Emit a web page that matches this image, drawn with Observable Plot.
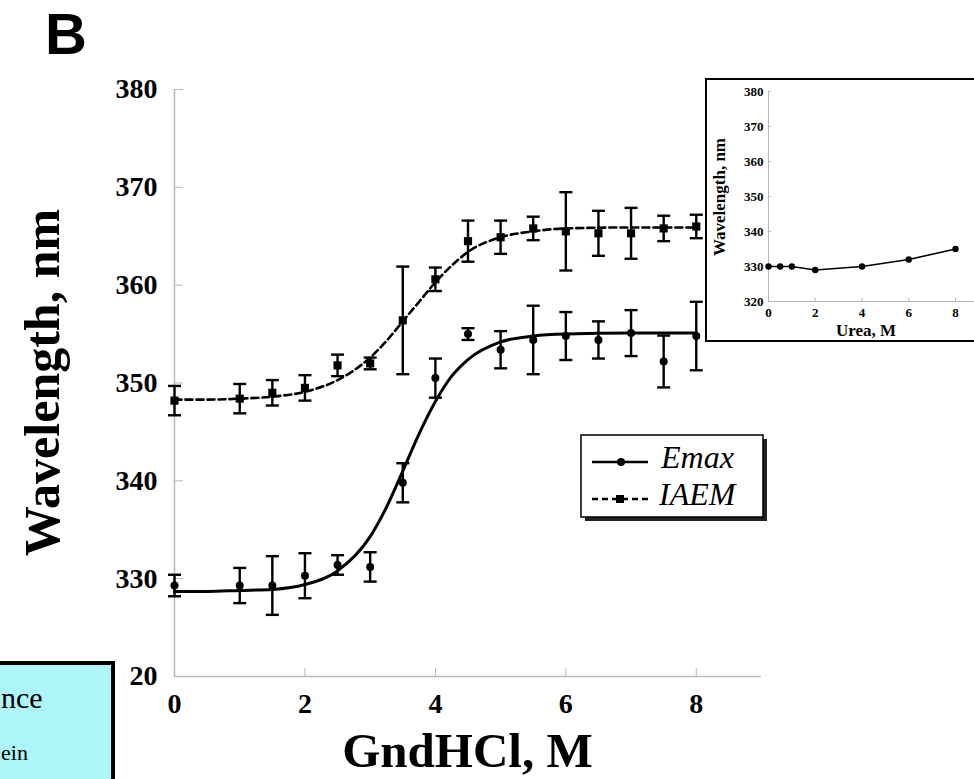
<!DOCTYPE html>
<html><head><meta charset="utf-8">
<script src="https://cdn.jsdelivr.net/npm/d3@7"></script>
<script src="https://cdn.jsdelivr.net/npm/@observablehq/plot@0.6"></script>
<style>
html,body{margin:0;padding:0;background:#fff;}
body{width:974px;height:779px;overflow:hidden;position:relative;}
#main{position:absolute;left:0;top:0;}
#inset{position:absolute;left:705px;top:78px;width:300px;height:260px;border:2px solid #000;background:#fff;overflow:hidden;}
#overlay{position:absolute;left:0;top:0;}
</style></head><body>
<div id="main"></div>
<div id="inset"></div>
<svg id="overlay" width="974" height="779"></svg>
<script>
// ---------- data ----------
const xTicks = [0, 2, 4, 6, 8];
const yTicks = [320, 330, 340, 350, 360, 370, 380];
const yTickLabels = ["20", "330", "340", "350", "360", "370", "380"];

const conc = [0, 1, 1.5, 2, 2.5, 3, 3.5, 4, 4.5, 5, 5.5, 6, 6.5, 7, 7.5, 8];
const emaxMean = [329.3, 329.3, 329.3, 330.3, 331.4, 331.2, 339.8, 350.5, 355.0, 353.4, 354.4, 354.8, 354.4, 355.1, 352.2, 354.8];
const emaxErr  = [1.1, 1.8, 3.0, 2.3, 1.0, 1.5, 2.0, 2.0, 0.6, 1.9, 3.5, 2.45, 1.9, 2.35, 2.65, 3.5];
const iaemMean = [348.2, 348.4, 349.0, 349.5, 351.8, 352.0, 356.4, 360.6, 364.5, 364.9, 365.8, 365.5, 365.3, 365.3, 365.8, 366.0];
const iaemErr  = [1.5, 1.5, 1.3, 1.3, 1.1, 0.6, 5.5, 1.2, 2.1, 1.7, 1.2, 4.0, 2.3, 2.6, 1.3, 1.2];

// fitted curves
const fitX    = [0, 0.5, 1, 1.5, 2, 2.5, 3, 3.25, 3.5, 3.75, 4, 4.25, 4.5, 5, 5.5, 6, 7, 8];
const emaxFit = [328.7, 328.7, 328.8, 328.9, 329.4, 330.8, 334.3, 337.3, 341.0, 344.8, 348.1, 350.7, 352.4, 354.2, 354.8, 355.0, 355.1, 355.1];
const iaemFit = [348.3, 348.3, 348.4, 348.6, 349.1, 350.3, 352.6, 354.3, 356.3, 358.3, 360.3, 362.0, 363.4, 364.9, 365.5, 365.8, 365.9, 365.9];

// inset (urea)
const ureaX = [0, 0.5, 1, 2, 4, 6, 8];
const ureaY = [330, 330, 330, 329, 330, 332, 335];
const insetXTicks = [0, 2, 4, 6, 8];
const insetYTicks = [320, 330, 340, 350, 360, 370, 380];

// ---------- build ----------
const emaxPts = conc.map((x, i) => ({x, y: emaxMean[i], e: emaxErr[i]}));
const iaemPts = conc.map((x, i) => ({x, y: iaemMean[i], e: iaemErr[i]}));
const fit = fitX.map((x, i) => ({x, emax: emaxFit[i], iaem: iaemFit[i]}));
const urea = ureaX.map((x, i) => ({x, y: ureaY[i]}));

const capSym = {draw(ctx, size) { const h = Math.sqrt(size / Math.PI); ctx.moveTo(-h, 0); ctx.lineTo(h, 0); }};
const serif = "Liberation Serif, Times New Roman, serif";
const axisGray = "#b8b8b8";

function errMarks(pts) {
  return [
    Plot.ruleX(pts, {x: "x", y1: d => d.y - d.e, y2: d => d.y + d.e, stroke: "#000", strokeWidth: 2.4}),
    Plot.dot(pts, {x: "x", y: d => d.y + d.e, symbol: capSym, r: 6.5, stroke: "#000", strokeWidth: 2.4}),
    Plot.dot(pts, {x: "x", y: d => d.y - d.e, symbol: capSym, r: 6.5, stroke: "#000", strokeWidth: 2.4})
  ];
}

const main = Plot.plot({
  width: 974, height: 779,
  marginLeft: 174, marginRight: 213, marginTop: 89, marginBottom: 103,
  x: {domain: [0, 9]},
  y: {domain: [320, 380]},
  style: {background: "transparent", overflow: "visible"},
  marks: [
    Plot.ruleY([320], {stroke: axisGray, strokeWidth: 1.5}),
    Plot.ruleX([0], {stroke: axisGray, strokeWidth: 1.5}),
    Plot.axisX({ticks: xTicks, tickSize: -8, tickPadding: 25, stroke: axisGray, fill: "#000",
      fontSize: 28, fontWeight: "bold", fontFamily: serif, label: null, tickFormat: d => String(d)}),
    Plot.axisY({ticks: yTicks, tickSize: -9, tickPadding: 26, stroke: axisGray, fill: "#000",
      fontSize: 28, fontWeight: "bold", fontFamily: serif, label: null,
      tickFormat: d => yTickLabels[yTicks.indexOf(d)]}),
    Plot.line(fit, {x: "x", y: "emax", curve: "monotone-x", stroke: "#000", strokeWidth: 3}),
    Plot.line(fit, {x: "x", y: "iaem", curve: "monotone-x", stroke: "#000", strokeWidth: 2.6, strokeDasharray: "7,4"}),
    ...errMarks(emaxPts),
    ...errMarks(iaemPts),
    Plot.dot(emaxPts, {x: "x", y: "y", r: 4, fill: "#000"}),
    Plot.dot(iaemPts, {x: "x", y: "y", symbol: "square", r: 4.6, fill: "#000"})
  ]
});
document.getElementById("main").appendChild(main);

const inset = Plot.plot({
  width: 300, height: 260,
  marginLeft: 61, marginRight: 28.6, marginTop: 11, marginBottom: 39,
  x: {domain: [0, 9]},
  y: {domain: [320, 380]},
  style: {background: "transparent", overflow: "visible"},
  marks: [
    Plot.ruleY([320], {stroke: axisGray, strokeWidth: 1}),
    Plot.ruleX([0], {stroke: axisGray, strokeWidth: 1}),
    Plot.axisX({ticks: insetXTicks, tickSize: -3, tickPadding: 9, stroke: axisGray, fill: "#000",
      fontSize: 13, fontWeight: "bold", fontFamily: serif, label: null, tickFormat: d => String(d)}),
    Plot.axisY({ticks: insetYTicks, tickSize: -3, tickPadding: 8, stroke: axisGray, fill: "#000",
      fontSize: 13, fontWeight: "bold", fontFamily: serif, label: null, tickFormat: d => String(d)}),
    Plot.line(urea, {x: "x", y: "y", stroke: "#000", strokeWidth: 1.6}),
    Plot.dot(urea, {x: "x", y: "y", r: 3.2, fill: "#000"})
  ]
});
document.getElementById("inset").appendChild(inset);
const isv = d3.select(inset);
isv.append("text").attr("x", 159).attr("y", 256).attr("text-anchor", "middle")
  .style("font", `bold 17px ${serif}`).text("Urea, M");
isv.append("text").attr("transform", "translate(18,117) rotate(-90)").attr("text-anchor", "middle")
  .style("font", `bold 17px ${serif}`).text("Wavelength, nm");

// ---------- overlay texts ----------
const ov = d3.select("#overlay");
ov.append("rect").attr("x", -10).attr("y", 663).attr("width", 123).attr("height", 200)
  .attr("fill", "#aef5f9").attr("stroke", "#000").attr("stroke-width", 4);
ov.append("text").attr("x", 1).attr("y", 708)
  .style("font", `30px ${serif}`).text("nce");
ov.append("text").attr("x", 1).attr("y", 760)
  .style("font", `22px ${serif}`).text("ein");

ov.append("text").attr("x", 45).attr("y", 54)
  .style("font", "bold 58px Liberation Sans, Arial, sans-serif").text("B");

ov.append("text").attr("transform", "translate(59,382.5) rotate(-90)").attr("text-anchor", "middle")
  .style("font", `bold 50px ${serif}`).text("Wavelength, nm");
ov.append("text").attr("x", 467.5).attr("y", 767).attr("text-anchor", "middle")
  .style("font", `bold 49px ${serif}`).text("GndHCl, M");

// legend
const lg = ov.append("g");
lg.append("rect").attr("x", 585).attr("y", 439).attr("width", 182).attr("height", 82).attr("fill", "#222");
lg.append("rect").attr("x", 581).attr("y", 435).attr("width", 182).attr("height", 82)
  .attr("fill", "#fff").attr("stroke", "#000").attr("stroke-width", 1.5);
lg.append("line").attr("x1", 592).attr("x2", 648).attr("y1", 462).attr("y2", 462).attr("stroke", "#000").attr("stroke-width", 2.5);
lg.append("circle").attr("cx", 621).attr("cy", 462).attr("r", 4).attr("fill", "#000");
lg.append("line").attr("x1", 592).attr("x2", 650).attr("y1", 499).attr("y2", 499).attr("stroke", "#000")
  .attr("stroke-width", 2.5).attr("stroke-dasharray", "6,4");
lg.append("rect").attr("x", 616).attr("y", 495).attr("width", 8).attr("height", 8).attr("fill", "#000");
lg.append("text").attr("x", 661).attr("y", 468).style("font", `italic 32px ${serif}`).text("Emax");
lg.append("text").attr("x", 659).attr("y", 505).style("font", `italic 32px ${serif}`).text("IAEM");
</script>
</body></html>
